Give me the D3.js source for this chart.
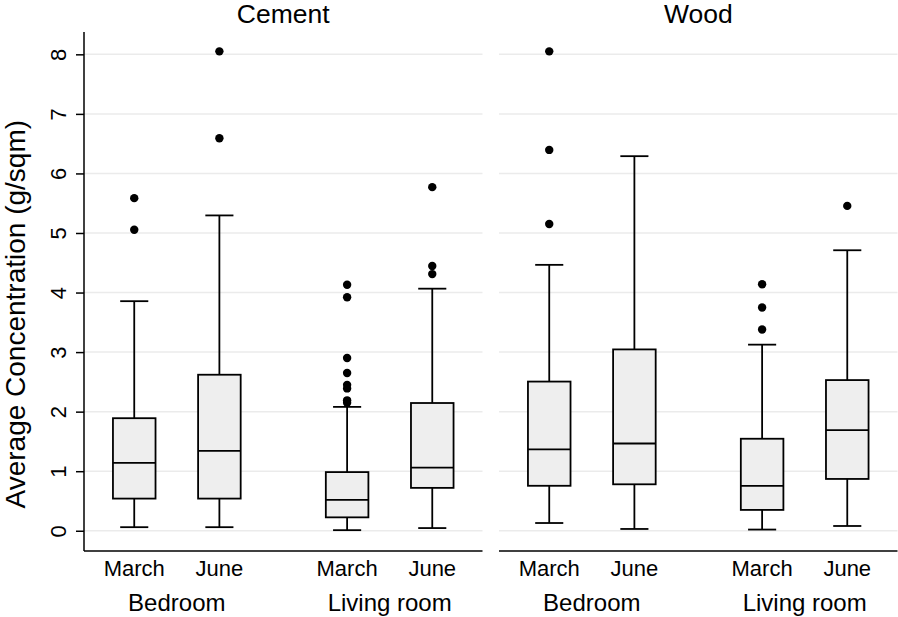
<!DOCTYPE html>
<html>
<head>
<meta charset="utf-8">
<script src="https://cdn.jsdelivr.net/npm/d3@7"></script>
<style>
  html, body { margin: 0; padding: 0; background: #fff; }
  svg { display: block; font-family: "Liberation Sans", Arial, Helvetica, sans-serif; }
</style>
</head>
<body>
<svg id="chart" width="898" height="617"></svg>
<script>
// ---- data ----
const panels = ["Cement", "Wood"];
const rooms = ["Bedroom", "Living room"];
const months = ["March", "June"];
const yTicks = [0, 1, 2, 3, 4, 5, 6, 7, 8];
const yLabel = "Average Concentration (g/sqm)";

// box order: Cement-Bedroom-March, Cement-Bedroom-June, Cement-Living-March, Cement-Living-June,
//            Wood-Bedroom-March,   Wood-Bedroom-June,   Wood-Living-March,   Wood-Living-June
const lowerWhisker = [0.06, 0.06, 0.01, 0.045, 0.13, 0.03, 0.02, 0.08];
const q1 = [0.54, 0.54, 0.225, 0.72, 0.755, 0.78, 0.35, 0.87];
const median = [1.14, 1.34, 0.52, 1.06, 1.365, 1.465, 0.755, 1.69];
const q3 = [1.89, 2.62, 0.985, 2.145, 2.505, 3.045, 1.545, 2.53];
const upperWhisker = [3.855, 5.295, 2.08, 4.065, 4.465, 6.29, 3.125, 4.71];
const outliers = [
  [5.585, 5.055],
  [8.05, 6.59],
  [4.13, 3.92, 2.90, 2.65, 2.45, 2.39, 2.19, 2.15],
  [5.77, 4.445, 4.31],
  [8.05, 6.395, 5.15],
  [],
  [4.14, 3.75, 3.38],
  [5.455]
];

// ---- layout ----
const svg = d3.select("#chart");
const plotTop = 32, plotBottom = 551;
const panelX = [84, 499];
const panelW = 398.5;

const y = d3.scaleLinear().domain([-0.34, 8.375]).range([plotBottom, plotTop]);

const boxes = [];
panels.forEach((p, pi) => {
  rooms.forEach((r, ri) => {
    months.forEach((m, mi) => {
      const i = pi * 4 + ri * 2 + mi;
      boxes.push({
        panel: pi, room: ri, month: m, pos: ri * 2.5 + mi + 1,
        lo: lowerWhisker[i], q1: q1[i], med: median[i], q3: q3[i], hi: upperWhisker[i],
        out: outliers[i]
      });
    });
  });
});

const sw = 1.8;

panels.forEach((p, pi) => {
  const x = d3.scaleLinear().domain([0.41, 5.09]).range([panelX[pi], panelX[pi] + panelW]);
  const unit = x(2) - x(1);
  const boxW = unit * 0.5, capW = unit * 0.33;
  const g = svg.append("g");

  // grid
  g.selectAll("line.grid").data(yTicks).join("line")
    .attr("x1", x.range()[0]).attr("x2", x.range()[1])
    .attr("y1", d => y(d)).attr("y2", d => y(d))
    .attr("stroke", "#ebebeb").attr("stroke-width", 1.5);

  // title
  g.append("text")
    .attr("x", (x.range()[0] + x.range()[1]) / 2).attr("y", 23)
    .attr("text-anchor", "middle").attr("font-size", 26.5).attr("fill", "#000")
    .text(p);

  // bottom axis line
  g.append("line")
    .attr("x1", x.range()[0]).attr("x2", x.range()[1])
    .attr("y1", plotBottom).attr("y2", plotBottom)
    .attr("stroke", "#000").attr("stroke-width", 1.5);

  // left axis only on first panel
  if (pi === 0) {
    const yAxis = d3.axisLeft(y).tickValues(yTicks).tickSize(8).tickFormat(d3.format("d"));
    const ag = g.append("g").attr("transform", `translate(${x.range()[0]},0)`).call(yAxis);
    ag.select(".domain").attr("d", `M0,${plotBottom}V${plotTop}`).attr("stroke", "#000").attr("stroke-width", 1.5);
    ag.selectAll(".tick line").attr("stroke", "#000").attr("stroke-width", 1.5);
    ag.selectAll(".tick text")
      .attr("font-family", "Liberation Sans, Arial, Helvetica, sans-serif")
      .attr("font-size", 22).attr("fill", "#000")
      .attr("x", null).attr("dy", null)
      .attr("text-anchor", "middle")
      .attr("transform", "translate(-18,0) rotate(-90)");
  }

  const pb = boxes.filter(b => b.panel === pi);
  const bg = g.selectAll("g.box").data(pb).join("g").attr("class", "box");

  // whiskers
  bg.append("line")
    .attr("x1", d => x(d.pos)).attr("x2", d => x(d.pos))
    .attr("y1", d => y(d.hi)).attr("y2", d => y(d.q3))
    .attr("stroke", "#000").attr("stroke-width", sw);
  bg.append("line")
    .attr("x1", d => x(d.pos)).attr("x2", d => x(d.pos))
    .attr("y1", d => y(d.q1)).attr("y2", d => y(d.lo))
    .attr("stroke", "#000").attr("stroke-width", sw);
  // caps
  bg.append("line")
    .attr("x1", d => x(d.pos) - capW / 2).attr("x2", d => x(d.pos) + capW / 2)
    .attr("y1", d => y(d.hi)).attr("y2", d => y(d.hi))
    .attr("stroke", "#000").attr("stroke-width", sw);
  bg.append("line")
    .attr("x1", d => x(d.pos) - capW / 2).attr("x2", d => x(d.pos) + capW / 2)
    .attr("y1", d => y(d.lo)).attr("y2", d => y(d.lo))
    .attr("stroke", "#000").attr("stroke-width", sw);
  // box
  bg.append("rect")
    .attr("x", d => x(d.pos) - boxW / 2).attr("width", boxW)
    .attr("y", d => y(d.q3)).attr("height", d => y(d.q1) - y(d.q3))
    .attr("fill", "#eeeeee").attr("stroke", "#000").attr("stroke-width", sw);
  // median
  bg.append("line")
    .attr("x1", d => x(d.pos) - boxW / 2).attr("x2", d => x(d.pos) + boxW / 2)
    .attr("y1", d => y(d.med)).attr("y2", d => y(d.med))
    .attr("stroke", "#000").attr("stroke-width", sw);
  // outliers
  bg.selectAll("circle").data(d => d.out.map(v => ({ v, pos: d.pos }))).join("circle")
    .attr("cx", d => x(d.pos)).attr("cy", d => y(d.v)).attr("r", 4.2).attr("fill", "#000");

  // month labels
  g.selectAll("text.month").data(pb).join("text").attr("class", "month")
    .attr("x", d => x(d.pos)).attr("y", 575.5)
    .attr("text-anchor", "middle").attr("font-size", 22).attr("fill", "#000")
    .text(d => d.month);

  // room labels
  g.selectAll("text.room").data(rooms).join("text").attr("class", "room")
    .attr("x", (d, ri) => x(ri * 2.5 + 1.5)).attr("y", 610.5)
    .attr("text-anchor", "middle").attr("font-size", 24).attr("fill", "#000")
    .text(d => d);
});

// y axis title
svg.append("text")
  .attr("transform", "translate(25,508.5) rotate(-90)")
  .attr("text-anchor", "start").attr("font-size", 28).attr("fill", "#000")
  .text(yLabel);
</script>
</body>
</html>
